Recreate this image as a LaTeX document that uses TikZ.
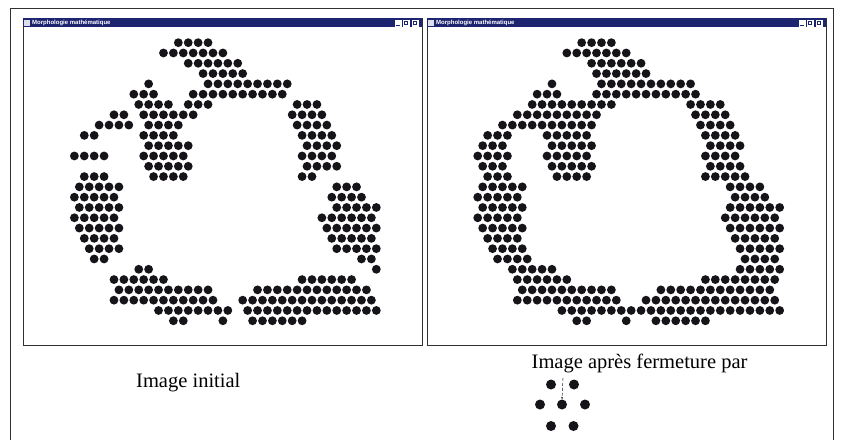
\documentclass[tikz,border=0pt]{standalone}
\usepackage{fontspec}
\setmainfont{Liberation Serif}
\newfontfamily\barfont{Liberation Sans}
\usetikzlibrary{arrows.meta}
\definecolor{mm-ink}{HTML}{161418}
\definecolor{mm-bar}{HTML}{1D2470}
\definecolor{mm-frame}{HTML}{303030}

\begin{document}
\begin{tikzpicture}[
  x=1pt,y=-1pt,
  pix/.style={fill=mm-ink},
  win/.style={draw=mm-frame,line width=0.9pt,fill=white},
  bar/.style={fill=mm-bar},
  btn/.style={draw=white,fill=white,line width=0.3pt},
  bartext/.style={anchor=west,inner sep=0pt,text=white,font=\barfont\bfseries\fontsize{6}{7}\selectfont},
  caption/.style={anchor=base west,inner sep=0pt,font=\fontsize{20.5}{22}\selectfont},
  sedot/.style={circle,fill=mm-ink,inner sep=0pt,minimum size=10pt},
  originmark/.style={-{Stealth[length=2.5pt,width=2pt]},mm-ink,line width=0.5pt,densely dashed}
]
\useasboundingbox (0,0) rectangle (842,439);

% outer frame
\draw[mm-frame,line width=1pt] (10,445) -- (10,8) -- (833,8) -- (833,445);

% the two windows
\foreach \wx/\nm in {23/left,427/right}{
  \draw[win] (\wx,18) rectangle ++(399,327);
  \fill[bar] (\wx,18) rectangle ++(399,9);
  \fill[white!85!mm-bar] (\wx+1,19.5) rectangle ++(6,6);
  \node[bartext] (title-\nm) at (\wx+9,22.5) {Morphologie math\'ematique};
  \fill[btn] (\wx+372,20) rectangle ++(6,6);
  \fill[btn] (\wx+380,20) rectangle ++(6,6);
  \fill[btn] (\wx+389,20) rectangle ++(6,6);
  \draw[mm-bar,line width=0.6pt] (\wx+373,25) -- ++(4,0);
  \draw[mm-bar,line width=0.5pt] (\wx+381.5,21.5) rectangle ++(3,3);
  \draw[mm-bar,line width=0.5pt] (\wx+390.5,21.5) rectangle ++(3,3);
}

% image initial
\begin{scope}[shift={(178.33,42.67)}]
\foreach \r/\k/\n in {0/0/4, 1/-3/7, 2/2/6, 3/5/5, 4/-6/1, 4/6/9, 5/-9/3, 5/3/10,
  6/-8/4, 6/2/3, 6/24/3, 7/-13/2, 7/-7/6, 7/23/4, 8/-16/4, 8/-6/4, 8/24/4,
  9/-19/2, 9/-7/4, 9/25/4, 10/-6/5, 10/26/4, 11/-21/4, 11/-7/5, 11/25/4,
  12/-6/5, 12/26/4, 13/-19/3, 13/-5/4, 13/25/2, 14/-20/5, 14/32/3,
  15/-21/5, 15/31/4, 16/-20/5, 16/32/5, 17/-21/5, 17/29/6, 18/-20/5, 18/30/6,
  19/-19/4, 19/31/5, 20/-18/4, 20/32/5, 21/-17/2, 21/37/2, 22/-8/2, 22/40/1,
  23/-13/6, 23/25/6, 24/-12/10, 24/16/12, 25/-13/11, 25/13/14,
  26/-4/8, 26/14/14, 27/-1/2, 27/9/1, 27/15/6}
  \foreach \i in {1,...,\n}
    \fill[pix] ({4.95*(\k+2*\i-2)},{10.3*\r}) circle[radius=4.4pt];
\end{scope}

% image apres fermeture
\begin{scope}[shift={(581.67,42.67)}]
\foreach \r/\k/\n in {0/0/4, 1/-3/7, 2/2/6, 3/3/6, 4/-6/1, 4/4/10, 5/-9/3, 5/3/11,
  6/-10/9, 6/22/4, 7/-13/9, 7/23/4, 8/-16/10, 8/24/4,
  9/-19/3, 9/-7/5, 9/25/4, 10/-20/3, 10/-6/5, 10/26/4, 11/-21/4, 11/-7/5, 11/25/4,
  12/-20/3, 12/-6/5, 12/26/4, 13/-19/3, 13/-5/4, 13/25/5, 14/-20/5, 14/30/4,
  15/-21/5, 15/31/4, 16/-20/5, 16/30/6, 17/-21/5, 17/29/6, 18/-20/5, 18/30/6,
  19/-19/4, 19/31/5, 20/-18/4, 20/32/5, 21/-17/4, 21/33/4, 22/-14/5, 22/32/5,
  23/-13/6, 23/25/8, 24/-12/10, 24/16/12, 25/-13/11, 25/13/14,
  26/-4/23, 27/-1/2, 27/9/1, 27/15/6}
  \foreach \i in {1,...,\n}
    \fill[pix] ({4.95*(\k+2*\i-2)},{10.3*\r}) circle[radius=4.4pt];
\end{scope}

% captions
\node[caption] (cap-init) at (136,387) {Image initial};
\node[caption] (cap-close) at (531.5,368) {Image apr\`es fermeture par};

% structuring element
\node[sedot] (se-tl) at (551,384.5) {};
\node[sedot] (se-tr) at (574,384.5) {};
\node[sedot] (se-ml) at (540,404.5) {};
\node[sedot] (se-c)  at (562,404.5) {};
\node[sedot] (se-mr) at (585,404.5) {};
\node[sedot] (se-bl) at (551,426) {};
\node[sedot] (se-br) at (573.5,426) {};
\coordinate (se-o) at (563,378);
\draw[originmark] (se-o) -- (se-c.north);

\end{tikzpicture}
\end{document}
